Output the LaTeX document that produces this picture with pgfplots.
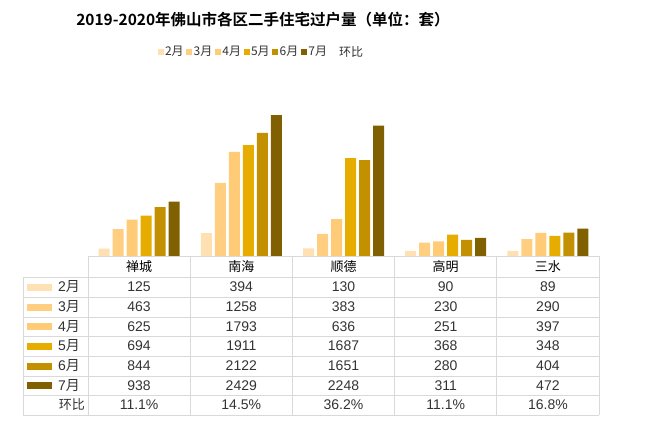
\documentclass[border=0pt]{standalone}
\usepackage{pgfplots}
\pgfplotsset{compat=1.18}
\usepackage{fontspec}
\setmainfont{Liberation Sans}
\newfontfamily\cjk{Noto Sans CJK SC}[BoldFont={Noto Sans CJK SC Bold}]
\definecolor{cB}{RGB}{255,224,179}
\definecolor{cC}{RGB}{255,206,128}
\definecolor{cD}{RGB}{255,203,118}
\definecolor{cE}{RGB}{230,172,0}
\definecolor{cF}{RGB}{194,144,0}
\definecolor{cG}{RGB}{128,96,0}
\definecolor{gridc}{RGB}{217,217,217}
\definecolor{txt}{RGB}{51,51,51}
\pgfplotsset{sqleg/.style={legend image code/.code={\fill[##1] (0pt,-3pt) rectangle (6pt,3pt);}}}
\newcommand\tabrow[6]{\foreach \v [count=\i from 0] in {#2,#3,#4,#5,#6} \node[font=\fontsize{14}{16}\selectfont, text=txt] at ({139.1+102.2*\i},{432-#1}) {\v};}
\newcommand\rowlab[3]{%
  \fill[#3] (27,{432-#1-3.5}) rectangle (52,{432-#1+3.5});
  \node[anchor=east, font=\fontsize{14}{16}\selectfont, text=txt, inner sep=0pt] at (80,{432-#1}) {#2{\cjk 月}};}
\begin{document}
\begin{tikzpicture}[x=1pt,y=1pt]
\path[use as bounding box] (0,0) rectangle (647,432);
\node[font=\cjk\bfseries\fontsize{15.5}{18}\selectfont] at (263,412) {2019-2020年佛山市各区二手住宅过户量（单位：套）};
\begin{axis}[at={(88pt,176pt)}, anchor=south west, scale only axis,
  width=511pt, height=162.5pt, xmin=-0.5, xmax=4.5, ymin=0, ymax=2800,
  axis line style={draw=none}, xtick=\empty, ytick=\empty,
  ybar=3pt, bar width=11pt, clip=false,
  legend style={at={(0.3386,1.2554)}, anchor=center, draw=none, fill=none,
    legend columns=-1, font=\cjk\fontsize{12}{14}\selectfont, text=txt,
    nodes={inner sep=1.5pt},
    /tikz/every even column/.append style={column sep=1pt}},
]
\addplot[fill=cB, draw=none, sqleg] coordinates {(0,125) (1,394) (2,130) (3,90) (4,89)};
\addlegendentry{2月}
\addplot[fill=cC, draw=none, sqleg] coordinates {(0,463) (1,1258) (2,383) (3,230) (4,290)};
\addlegendentry{3月}
\addplot[fill=cD, draw=none, sqleg] coordinates {(0,625) (1,1793) (2,636) (3,251) (4,397)};
\addlegendentry{4月}
\addplot[fill=cE, draw=none, sqleg] coordinates {(0,694) (1,1911) (2,1687) (3,368) (4,348)};
\addlegendentry{5月}
\addplot[fill=cF, draw=none, sqleg] coordinates {(0,844) (1,2122) (2,1651) (3,280) (4,404)};
\addlegendentry{6月}
\addplot[fill=cG, draw=none, sqleg] coordinates {(0,938) (1,2429) (2,2248) (3,311) (4,472)};
\addlegendentry{7月}
\addlegendimage{draw=none, fill=none, legend image code/.code={\path (0pt,-3pt) rectangle (8pt,3pt);}}
\addlegendentry{环比}
\end{axis}
% table grid
\begin{scope}[draw=gridc, line width=0.8pt]
\draw (88,{432-256}) -- (599,{432-256});
\foreach \yy in {277,297,317,336,356,376,395,415} \draw (23,{432-\yy}) -- (599,{432-\yy});
\draw (23,{432-277}) -- (23,{432-415});
\foreach \i in {0,...,5} \draw ({88+102.2*\i},{432-256}) -- ({88+102.2*\i},{432-415});
\end{scope}
\foreach \name [count=\i from 0] in {禅城,南海,顺德,高明,三水}
  \node[font=\cjk\fontsize{13}{15}\selectfont, text=black] at ({139.1+102.2*\i},{432-266.5}) {\name};
\rowlab{287}{2}{cB}
\rowlab{307}{3}{cC}
\rowlab{326.5}{4}{cD}
\rowlab{346}{5}{cE}
\rowlab{366}{6}{cF}
\rowlab{385.5}{7}{cG}
\node[anchor=east, font=\cjk\fontsize{13}{15}\selectfont, text=txt, inner sep=0pt] at (85,{432-405}) {环比};
\tabrow{287}{125}{394}{130}{90}{89}
\tabrow{307}{463}{1258}{383}{230}{290}
\tabrow{326.5}{625}{1793}{636}{251}{397}
\tabrow{346}{694}{1911}{1687}{368}{348}
\tabrow{366}{844}{2122}{1651}{280}{404}
\tabrow{385.5}{938}{2429}{2248}{311}{472}
\tabrow{405}{11.1\%}{14.5\%}{36.2\%}{11.1\%}{16.8\%}
\end{tikzpicture}
\end{document}
